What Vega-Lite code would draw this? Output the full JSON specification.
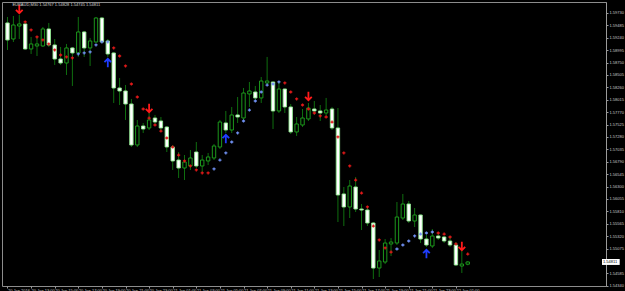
{
  "$schema": "https://vega.github.io/schema/vega-lite/v6.json",
  "width": 604,
  "height": 284,
  "autosize": {"type": "none"},
  "padding": {"left": 2, "top": 2, "right": 19, "bottom": 5},
  "background": "#000000",
  "config": {
    "view": {"stroke": "#8c8c8c", "strokeWidth": 1},
    "font": "Liberation Sans",
    "axis": {"labelOverlap": false, "labelFlush": false, "labelBound": false, "labelFont": "Liberation Sans"},
    "axisY": {"labelOverlap": false}
  },
  "datasets": {
    "candles": [
      {"t":"2016-01-20T11:00","o":1.59533,"h":1.59651,"l":1.58999,"c":1.59197},
      {"t":"2016-01-20T11:30","o":1.59216,"h":1.59671,"l":1.59157,"c":1.59493},
      {"t":"2016-01-20T12:00","o":1.59473,"h":1.59691,"l":1.59216,"c":1.59513},
      {"t":"2016-01-20T12:30","o":1.59513,"h":1.59533,"l":1.58999,"c":1.59019},
      {"t":"2016-01-20T13:00","o":1.59019,"h":1.59256,"l":1.5892,"c":1.59118},
      {"t":"2016-01-20T13:30","o":1.59078,"h":1.59256,"l":1.5888,"c":1.59118},
      {"t":"2016-01-20T14:00","o":1.59078,"h":1.59453,"l":1.59058,"c":1.59414},
      {"t":"2016-01-20T14:30","o":1.59414,"h":1.59533,"l":1.59058,"c":1.59098},
      {"t":"2016-01-20T15:00","o":1.59098,"h":1.59216,"l":1.58703,"c":1.58821},
      {"t":"2016-01-20T15:30","o":1.58821,"h":1.59058,"l":1.58703,"c":1.58742},
      {"t":"2016-01-20T16:00","o":1.58742,"h":1.59118,"l":1.58505,"c":1.59039},
      {"t":"2016-01-20T16:30","o":1.59039,"h":1.59058,"l":1.58288,"c":1.5894},
      {"t":"2016-01-20T17:00","o":1.5894,"h":1.59651,"l":1.58861,"c":1.59355},
      {"t":"2016-01-20T17:30","o":1.59355,"h":1.59375,"l":1.58861,"c":1.59039},
      {"t":"2016-01-20T18:00","o":1.59039,"h":1.59236,"l":1.58683,"c":1.59177},
      {"t":"2016-01-20T18:30","o":1.59157,"h":1.59651,"l":1.59137,"c":1.59631},
      {"t":"2016-01-20T19:00","o":1.59631,"h":1.59651,"l":1.59137,"c":1.59157},
      {"t":"2016-01-20T19:30","o":1.59177,"h":1.59216,"l":1.58861,"c":1.5892},
      {"t":"2016-01-20T20:00","o":1.5894,"h":1.5896,"l":1.57952,"c":1.58248},
      {"t":"2016-01-20T20:30","o":1.58248,"h":1.58446,"l":1.57912,"c":1.58189},
      {"t":"2016-01-20T21:00","o":1.58189,"h":1.58307,"l":1.57616,"c":1.57932},
      {"t":"2016-01-20T21:30","o":1.57932,"h":1.58031,"l":1.57082,"c":1.57122},
      {"t":"2016-01-20T22:00","o":1.57122,"h":1.57616,"l":1.57082,"c":1.57497},
      {"t":"2016-01-20T22:30","o":1.57497,"h":1.57557,"l":1.57359,"c":1.57438},
      {"t":"2016-01-20T23:00","o":1.57458,"h":1.57754,"l":1.57418,"c":1.57616},
      {"t":"2016-01-20T23:30","o":1.57655,"h":1.57715,"l":1.57517,"c":1.57576},
      {"t":"2016-01-21T00:00","o":1.57596,"h":1.57675,"l":1.57398,"c":1.57458},
      {"t":"2016-01-21T00:30","o":1.57477,"h":1.57497,"l":1.56983,"c":1.57082},
      {"t":"2016-01-21T01:00","o":1.57082,"h":1.57122,"l":1.56628,"c":1.56806},
      {"t":"2016-01-21T01:30","o":1.56825,"h":1.56983,"l":1.5647,"c":1.56667},
      {"t":"2016-01-21T02:00","o":1.56667,"h":1.56924,"l":1.5643,"c":1.56786},
      {"t":"2016-01-21T02:30","o":1.56707,"h":1.57023,"l":1.56628,"c":1.56865},
      {"t":"2016-01-21T03:00","o":1.56983,"h":1.57181,"l":1.56667,"c":1.56707},
      {"t":"2016-01-21T03:30","o":1.56707,"h":1.56924,"l":1.56588,"c":1.56825},
      {"t":"2016-01-21T04:00","o":1.56806,"h":1.56964,"l":1.56727,"c":1.56885},
      {"t":"2016-01-21T04:30","o":1.56865,"h":1.57142,"l":1.56825,"c":1.57102},
      {"t":"2016-01-21T05:00","o":1.57082,"h":1.57616,"l":1.57043,"c":1.57576},
      {"t":"2016-01-21T05:30","o":1.57557,"h":1.57794,"l":1.57359,"c":1.57418},
      {"t":"2016-01-21T06:00","o":1.57418,"h":1.57873,"l":1.57359,"c":1.57715},
      {"t":"2016-01-21T06:30","o":1.57715,"h":1.5807,"l":1.57557,"c":1.57675},
      {"t":"2016-01-21T07:00","o":1.57655,"h":1.58248,"l":1.57596,"c":1.58149},
      {"t":"2016-01-21T07:30","o":1.5813,"h":1.58367,"l":1.57873,"c":1.58189},
      {"t":"2016-01-21T08:00","o":1.58169,"h":1.58288,"l":1.57991,"c":1.58051},
      {"t":"2016-01-21T08:30","o":1.58051,"h":1.58465,"l":1.57952,"c":1.58386},
      {"t":"2016-01-21T09:00","o":1.58347,"h":1.58861,"l":1.58307,"c":1.58386},
      {"t":"2016-01-21T09:30","o":1.58367,"h":1.58376,"l":1.57438,"c":1.57794},
      {"t":"2016-01-21T10:00","o":1.57794,"h":1.58386,"l":1.57754,"c":1.58228},
      {"t":"2016-01-21T10:30","o":1.58228,"h":1.58238,"l":1.57754,"c":1.57873},
      {"t":"2016-01-21T11:00","o":1.57873,"h":1.57932,"l":1.57339,"c":1.57379},
      {"t":"2016-01-21T11:30","o":1.57379,"h":1.57675,"l":1.573,"c":1.57537},
      {"t":"2016-01-21T12:00","o":1.57517,"h":1.57833,"l":1.57477,"c":1.57655},
      {"t":"2016-01-21T12:30","o":1.57636,"h":1.57952,"l":1.57596,"c":1.57853},
      {"t":"2016-01-21T13:00","o":1.57833,"h":1.57991,"l":1.57715,"c":1.57794},
      {"t":"2016-01-21T13:30","o":1.57794,"h":1.57912,"l":1.57596,"c":1.57754},
      {"t":"2016-01-21T14:00","o":1.57754,"h":1.58051,"l":1.57695,"c":1.57813},
      {"t":"2016-01-21T14:30","o":1.57833,"h":1.57873,"l":1.57418,"c":1.57458},
      {"t":"2016-01-21T15:00","o":1.57458,"h":1.57853,"l":1.556,"c":1.56134},
      {"t":"2016-01-21T15:30","o":1.56154,"h":1.56292,"l":1.55521,"c":1.55897},
      {"t":"2016-01-21T16:00","o":1.55897,"h":1.5643,"l":1.55679,"c":1.56312},
      {"t":"2016-01-21T16:30","o":1.56292,"h":1.56489,"l":1.55798,"c":1.55857},
      {"t":"2016-01-21T17:00","o":1.55857,"h":1.55956,"l":1.55442,"c":1.55837},
      {"t":"2016-01-21T17:30","o":1.55837,"h":1.55916,"l":1.55521,"c":1.55581},
      {"t":"2016-01-21T18:00","o":1.55581,"h":1.556,"l":1.54474,"c":1.54691},
      {"t":"2016-01-21T18:30","o":1.54691,"h":1.55047,"l":1.54513,"c":1.5483},
      {"t":"2016-01-21T19:00","o":1.5481,"h":1.55264,"l":1.5477,"c":1.55185},
      {"t":"2016-01-21T19:30","o":1.55166,"h":1.55284,"l":1.54928,"c":1.55205},
      {"t":"2016-01-21T20:00","o":1.55185,"h":1.55995,"l":1.55146,"c":1.55699},
      {"t":"2016-01-21T20:30","o":1.55679,"h":1.56154,"l":1.5564,"c":1.55956},
      {"t":"2016-01-21T21:00","o":1.55956,"h":1.56015,"l":1.55581,"c":1.5562},
      {"t":"2016-01-21T21:30","o":1.5562,"h":1.55877,"l":1.55501,"c":1.55739},
      {"t":"2016-01-21T22:00","o":1.55739,"h":1.55749,"l":1.55185,"c":1.55264},
      {"t":"2016-01-21T22:30","o":1.55264,"h":1.55343,"l":1.55106,"c":1.55146},
      {"t":"2016-01-21T23:00","o":1.55126,"h":1.55462,"l":1.55087,"c":1.55324},
      {"t":"2016-01-21T23:30","o":1.55324,"h":1.55383,"l":1.55245,"c":1.55284},
      {"t":"2016-01-22T00:00","o":1.55304,"h":1.55324,"l":1.55185,"c":1.55225},
      {"t":"2016-01-22T00:30","o":1.55225,"h":1.55304,"l":1.55106,"c":1.55146},
      {"t":"2016-01-22T01:00","o":1.55146,"h":1.55205,"l":1.54731,"c":1.54751},
      {"t":"2016-01-22T01:30","o":1.54731,"h":1.55047,"l":1.54593,"c":1.5477},
      {"t":"2016-01-22T02:00","o":1.54767,"h":1.54828,"l":1.54745,"c":1.54811}
    ],
    "signals": [
      {"t":"2016-01-20T12:30","p":1.59552,"kind":"red"},
      {"t":"2016-01-20T13:00","p":1.59394,"kind":"red"},
      {"t":"2016-01-20T13:30","p":1.59256,"kind":"red"},
      {"t":"2016-01-20T14:00","p":1.59197,"kind":"red"},
      {"t":"2016-01-20T14:30","p":1.59118,"kind":"red"},
      {"t":"2016-01-20T15:00","p":1.58999,"kind":"red"},
      {"t":"2016-01-20T15:30","p":1.589,"kind":"red"},
      {"t":"2016-01-20T16:00","p":1.58861,"kind":"red"},
      {"t":"2016-01-20T16:30","p":1.58841,"kind":"red"},
      {"t":"2016-01-20T17:00","p":1.5892,"kind":"blue"},
      {"t":"2016-01-20T17:30","p":1.5894,"kind":"blue"},
      {"t":"2016-01-20T18:00","p":1.5896,"kind":"blue"},
      {"t":"2016-01-20T18:30","p":1.59098,"kind":"blue"},
      {"t":"2016-01-20T19:00","p":1.59157,"kind":"blue"},
      {"t":"2016-01-20T19:30","p":1.59157,"kind":"blue"},
      {"t":"2016-01-20T20:00","p":1.59039,"kind":"red"},
      {"t":"2016-01-20T20:30","p":1.5888,"kind":"red"},
      {"t":"2016-01-20T21:00","p":1.58683,"kind":"red"},
      {"t":"2016-01-20T21:30","p":1.58327,"kind":"red"},
      {"t":"2016-01-20T22:00","p":1.5807,"kind":"red"},
      {"t":"2016-01-20T22:30","p":1.57833,"kind":"red"},
      {"t":"2016-01-20T23:00","p":1.57655,"kind":"red"},
      {"t":"2016-01-20T23:30","p":1.57517,"kind":"red"},
      {"t":"2016-01-21T00:00","p":1.57398,"kind":"red"},
      {"t":"2016-01-21T00:30","p":1.5726,"kind":"red"},
      {"t":"2016-01-21T01:00","p":1.57082,"kind":"red"},
      {"t":"2016-01-21T01:30","p":1.56924,"kind":"red"},
      {"t":"2016-01-21T02:00","p":1.56806,"kind":"red"},
      {"t":"2016-01-21T02:30","p":1.56707,"kind":"red"},
      {"t":"2016-01-21T03:00","p":1.56628,"kind":"red"},
      {"t":"2016-01-21T03:30","p":1.56569,"kind":"red"},
      {"t":"2016-01-21T04:00","p":1.56569,"kind":"red"},
      {"t":"2016-01-21T04:30","p":1.56648,"kind":"blue"},
      {"t":"2016-01-21T05:00","p":1.56825,"kind":"blue"},
      {"t":"2016-01-21T05:30","p":1.56964,"kind":"blue"},
      {"t":"2016-01-21T06:00","p":1.57181,"kind":"blue"},
      {"t":"2016-01-21T06:30","p":1.57359,"kind":"blue"},
      {"t":"2016-01-21T07:00","p":1.57596,"kind":"blue"},
      {"t":"2016-01-21T07:30","p":1.57813,"kind":"blue"},
      {"t":"2016-01-21T08:00","p":1.57991,"kind":"blue"},
      {"t":"2016-01-21T08:30","p":1.58169,"kind":"blue"},
      {"t":"2016-01-21T09:00","p":1.58307,"kind":"blue"},
      {"t":"2016-01-21T09:30","p":1.58327,"kind":"blue"},
      {"t":"2016-01-21T10:00","p":1.58367,"kind":"blue"},
      {"t":"2016-01-21T10:30","p":1.58347,"kind":"red"},
      {"t":"2016-01-21T11:00","p":1.58169,"kind":"red"},
      {"t":"2016-01-21T11:30","p":1.58031,"kind":"red"},
      {"t":"2016-01-21T12:00","p":1.57912,"kind":"red"},
      {"t":"2016-01-21T12:30","p":1.57833,"kind":"red"},
      {"t":"2016-01-21T13:00","p":1.57754,"kind":"red"},
      {"t":"2016-01-21T13:30","p":1.57695,"kind":"red"},
      {"t":"2016-01-21T14:00","p":1.57675,"kind":"red"},
      {"t":"2016-01-21T14:30","p":1.57576,"kind":"red"},
      {"t":"2016-01-21T15:00","p":1.5728,"kind":"red"},
      {"t":"2016-01-21T15:30","p":1.56964,"kind":"red"},
      {"t":"2016-01-21T16:00","p":1.56707,"kind":"red"},
      {"t":"2016-01-21T16:30","p":1.5643,"kind":"red"},
      {"t":"2016-01-21T17:00","p":1.56173,"kind":"red"},
      {"t":"2016-01-21T17:30","p":1.55897,"kind":"red"},
      {"t":"2016-01-21T18:00","p":1.55521,"kind":"red"},
      {"t":"2016-01-21T18:30","p":1.55245,"kind":"red"},
      {"t":"2016-01-21T19:00","p":1.55087,"kind":"red"},
      {"t":"2016-01-21T19:30","p":1.55007,"kind":"red"},
      {"t":"2016-01-21T20:00","p":1.55067,"kind":"blue"},
      {"t":"2016-01-21T20:30","p":1.55146,"kind":"blue"},
      {"t":"2016-01-21T21:00","p":1.55225,"kind":"blue"},
      {"t":"2016-01-21T21:30","p":1.55324,"kind":"blue"},
      {"t":"2016-01-21T22:00","p":1.55363,"kind":"blue"},
      {"t":"2016-01-21T22:30","p":1.55383,"kind":"blue"},
      {"t":"2016-01-21T23:00","p":1.55403,"kind":"blue"},
      {"t":"2016-01-21T23:30","p":1.55383,"kind":"red"},
      {"t":"2016-01-22T00:00","p":1.55363,"kind":"red"},
      {"t":"2016-01-22T00:30","p":1.55304,"kind":"red"},
      {"t":"2016-01-22T01:00","p":1.55166,"kind":"red"},
      {"t":"2016-01-22T02:00","p":1.54968,"kind":"red"}
    ],
    "arrows": [
      {"t":"2016-01-20T12:00","p":1.59809,"dir":"down"},
      {"t":"2016-01-20T19:30","p":1.58742,"dir":"up"},
      {"t":"2016-01-20T23:00","p":1.57853,"dir":"down"},
      {"t":"2016-01-21T05:30","p":1.5724,"dir":"up"},
      {"t":"2016-01-21T12:30","p":1.5809,"dir":"down"},
      {"t":"2016-01-21T22:30","p":1.54968,"dir":"up"},
      {"t":"2016-01-22T01:30","p":1.55126,"dir":"down"}
    ],
    "header": [
      {"t":"2016-01-20T11:25:00","p":1.59888,"txt":"EURAUD,M30  1.54767 1.54828 1.54745 1.54811"}
    ],
    "lastprice": [
      {"t":"2016-01-22T13:22:30","t2":"2016-01-22T14:52:30","tt":"2016-01-22T13:27:30","p":1.54811,"p1":1.5487,"p2":1.54752,"txt":"1.54811"}
    ]
  },
  "encoding": {
    "x": {
      "field": "t",
      "type": "temporal",
      "scale": {
        "domain": [
          {"year": 2016, "month": 1, "date": 20, "hours": 10, "minutes": 57, "seconds": 30},
          {"year": 2016, "month": 1, "date": 22, "hours": 13, "minutes": 17, "seconds": 30}
        ],
        "nice": false
      },
      "axis": {
        "title": null,
        "grid": false,
        "domain": false,
        "values": [
          {"year": 2016, "month": 1, "date": 20, "hours": 11},
          {"year": 2016, "month": 1, "date": 20, "hours": 13},
          {"year": 2016, "month": 1, "date": 20, "hours": 15},
          {"year": 2016, "month": 1, "date": 20, "hours": 17},
          {"year": 2016, "month": 1, "date": 20, "hours": 19},
          {"year": 2016, "month": 1, "date": 20, "hours": 21},
          {"year": 2016, "month": 1, "date": 20, "hours": 23},
          {"year": 2016, "month": 1, "date": 21, "hours": 1},
          {"year": 2016, "month": 1, "date": 21, "hours": 3},
          {"year": 2016, "month": 1, "date": 21, "hours": 5},
          {"year": 2016, "month": 1, "date": 21, "hours": 7},
          {"year": 2016, "month": 1, "date": 21, "hours": 9},
          {"year": 2016, "month": 1, "date": 21, "hours": 11},
          {"year": 2016, "month": 1, "date": 21, "hours": 13},
          {"year": 2016, "month": 1, "date": 21, "hours": 15},
          {"year": 2016, "month": 1, "date": 21, "hours": 17},
          {"year": 2016, "month": 1, "date": 21, "hours": 19},
          {"year": 2016, "month": 1, "date": 21, "hours": 21},
          {"year": 2016, "month": 1, "date": 21, "hours": 23},
          {"year": 2016, "month": 1, "date": 22, "hours": 1}
        ],
        "labelExpr": "timeFormat(datum.value, '%d %H') == '20 11' ? '20 Jan 2016' : timeFormat(datum.value, '%d %b %H:%M')",
        "labelAlign": "left",
        "labelBaseline": "top",
        "labelPadding": 0,
        "labelFontSize": 4,
        "labelColor": "#c8c8c8",
        "labelOverlap": false,
        "tickSize": 2,
        "tickColor": "#9a9a9a"
      }
    },
    "y": {
      "type": "quantitative",
      "scale": {"domain": [1.54336, 1.59947], "nice": false, "zero": false},
      "axis": {
        "orient": "right",
        "title": null,
        "grid": false,
        "values": [1.5973, 1.59485, 1.5924, 1.58995, 1.5875, 1.58505, 1.5826, 1.58015, 1.5777, 1.57525, 1.5728, 1.57035, 1.5679, 1.56545, 1.563, 1.56055, 1.5581, 1.55565, 1.5532, 1.55075, 1.54585, 1.5434],
        "format": ".5f",
        "labelFontSize": 4,
        "labelColor": "#c8c8c8",
        "labelPadding": 1,
        "labelOverlap": false,
        "tickSize": 2,
        "tickColor": "#9a9a9a",
        "domainColor": "#9a9a9a"
      }
    }
  },
  "layer": [
    {
      "data": {"name": "candles"},
      "mark": {"type": "rule", "color": "#0f6e0f", "strokeWidth": 1, "clip": true},
      "encoding": {
        "y": {"field": "l", "type": "quantitative"},
        "y2": {"field": "h"}
      }
    },
    {
      "data": {"name": "candles"},
      "mark": {"type": "bar", "width": 3.4, "strokeWidth": 0.9, "clip": true},
      "encoding": {
        "y": {"field": "o", "type": "quantitative"},
        "y2": {"field": "c"},
        "fill": {
          "condition": {"test": "datum.c < datum.o", "value": "#ffffff"},
          "value": "#000000"
        },
        "stroke": {
          "condition": {"test": "datum.c < datum.o", "value": "#8fe88f"},
          "value": "#1fa81f"
        }
      }
    },
    {
      "data": {"name": "signals"},
      "mark": {"type": "point", "shape": "cross", "size": 10, "filled": true, "opacity": 1, "clip": true},
      "encoding": {
        "y": {"field": "p", "type": "quantitative"},
        "fill": {
          "field": "kind",
          "type": "nominal",
          "scale": {"domain": ["red", "blue"], "range": ["#e01818", "#6f8ff0"]},
          "legend": null
        }
      }
    },
    {
      "data": {"name": "arrows"},
      "mark": {"type": "point", "filled": false, "strokeWidth": 1.8, "size": 70, "opacity": 1},
      "encoding": {
        "y": {"field": "p", "type": "quantitative"},
        "shape": {
          "field": "dir",
          "type": "nominal",
          "scale": {
            "domain": ["down", "up"],
            "range": ["M0,-1L0,1M-0.8,0.2L0,1L0.8,0.2", "M0,1L0,-1M-0.8,-0.2L0,-1L0.8,-0.2"]
          },
          "legend": null
        },
        "stroke": {
          "field": "dir",
          "type": "nominal",
          "scale": {"domain": ["down", "up"], "range": ["#ff1a1a", "#1f3dff"]},
          "legend": null
        }
      }
    },
    {
      "data": {"name": "header"},
      "mark": {"type": "text", "align": "left", "baseline": "middle", "fontSize": 4, "color": "#d8d8d8"},
      "encoding": {
        "y": {"field": "p", "type": "quantitative"},
        "text": {"field": "txt"}
      }
    },
    {
      "data": {"name": "lastprice"},
      "mark": {"type": "rect", "color": "#ffffff", "clip": false},
      "encoding": {
        "x2": {"field": "t2"},
        "y": {"field": "p1", "type": "quantitative"},
        "y2": {"field": "p2"}
      }
    },
    {
      "data": {"name": "lastprice"},
      "mark": {"type": "text", "align": "left", "baseline": "middle", "fontSize": 4, "color": "#000000", "clip": false},
      "encoding": {
        "x": {"field": "tt", "type": "temporal"},
        "y": {"field": "p", "type": "quantitative"},
        "text": {"field": "txt"}
      }
    }
  ]
}
